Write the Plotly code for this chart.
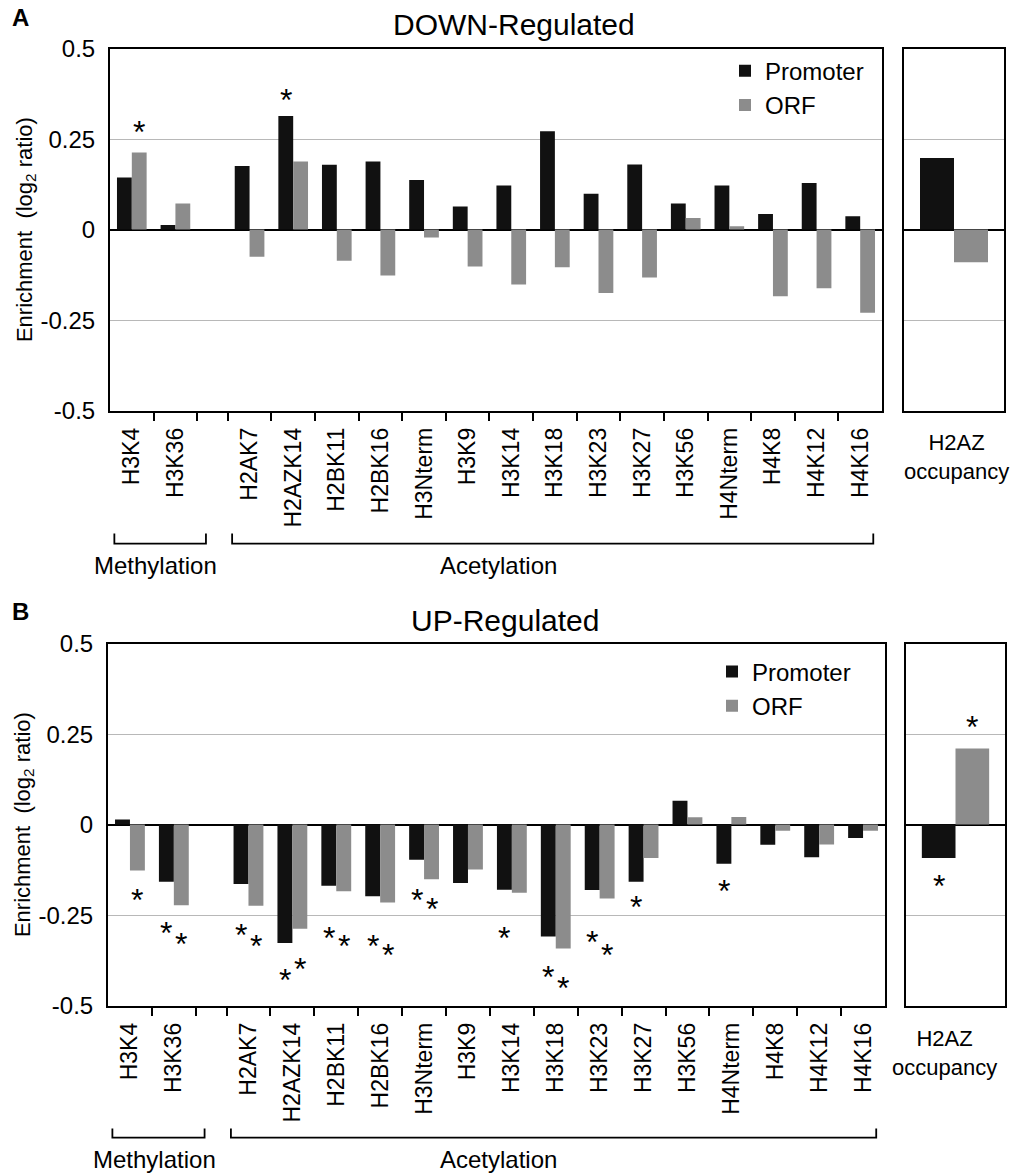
import plotly.graph_objects as go

# ---------------- data ----------------
categories = ["H3K4", "H3K36", "H2AK7", "H2AZK14", "H2BK11", "H2BK16", "H3Nterm",
              "H3K9", "H3K14", "H3K18", "H3K23", "H3K27", "H3K56", "H4Nterm",
              "H4K8", "H4K12", "H4K16"]
n_methylation = 2
series_names = ["Promoter", "ORF"]

down_promoter = [0.144, 0.013, 0.176, 0.314, 0.179, 0.188, 0.137, 0.064, 0.122,
                 0.272, 0.099, 0.180, 0.072, 0.122, 0.043, 0.129, 0.037]
down_orf = [0.213, 0.072, -0.075, 0.188, -0.086, -0.127, -0.022, -0.102, -0.152,
            -0.104, -0.175, -0.132, 0.032, 0.009, -0.184, -0.162, -0.230]
down_h2az = [0.198, -0.090]          # Promoter, ORF

up_promoter = [0.014, -0.158, -0.164, -0.327, -0.169, -0.198, -0.097, -0.161, -0.180,
               -0.309, -0.181, -0.158, 0.066, -0.108, -0.056, -0.090, -0.037]
up_orf = [-0.127, -0.223, -0.224, -0.288, -0.184, -0.215, -0.151, -0.124, -0.188,
          -0.342, -0.204, -0.092, 0.020, 0.021, -0.017, -0.055, -0.017]
up_h2az = [-0.092, 0.210]            # Promoter, ORF

# significance asterisks: (category, series, y value of the mark)
down_stars = [("H3K4", "ORF", 0.290), ("H2AZK14", "Promoter", 0.378)]
down_h2az_stars = []
up_stars = [("H3K4", "ORF", -0.19),
            ("H3K36", "Promoter", -0.28), ("H3K36", "ORF", -0.31),
            ("H2AK7", "Promoter", -0.287), ("H2AK7", "ORF", -0.315),
            ("H2AZK14", "Promoter", -0.41), ("H2AZK14", "ORF", -0.38),
            ("H2BK11", "Promoter", -0.293), ("H2BK11", "ORF", -0.315),
            ("H2BK16", "Promoter", -0.317), ("H2BK16", "ORF", -0.34),
            ("H3Nterm", "Promoter", -0.19), ("H3Nterm", "ORF", -0.213),
            ("H3K14", "Promoter", -0.293),
            ("H3K18", "Promoter", -0.403), ("H3K18", "ORF", -0.433),
            ("H3K23", "Promoter", -0.304), ("H3K23", "ORF", -0.342),
            ("H3K27", "Promoter", -0.207),
            ("H4Nterm", "Promoter", -0.163)]
up_h2az_stars = [("Promoter", -0.149), ("ORF", 0.288)]

y_ticks = [-0.5, -0.25, 0, 0.25, 0.5]
y_ticktext = ["-0.5", "-0.25", "0", "0.25", "0.5"]

# ---------------- layout helpers ----------------
FONT = "Liberation Sans, Arial, Helvetica, sans-serif"
BLACK = "#111111"
GREY = "#8c8c8c"
GAP = 0.7
W, H = 1015, 1174

centers = [i + 0.5 if i < n_methylation else i + GAP + 0.5 for i in range(len(categories))]
bounds = sorted([c + 0.5 for c in centers[:-1]] + [n_methylation + GAP])
x_max = len(categories) + GAP
pos = dict(zip(categories, centers))
offset = {"Promoter": -0.17, "ORF": 0.17}


def px_x(p):
    return p / W


def req(t):
    # target picture row -> figure row (compensates the capture's vertical mapping)
    return (t - 14.4) / 0.977


def px_y(t):
    return 1 - req(t) / H


def txt(x, y, text, size, xref="paper", yref="paper", **kw):
    d = dict(x=x, y=y, xref=xref, yref=yref, text=text, showarrow=False,
             xanchor="center", yanchor="middle",
             font=dict(size=size, family=FONT, color="black"))
    d.update(kw)
    return d


fig = go.Figure()

panels = [
    dict(xa="x", ya="y", xa2="x2", ya2="y2", prom=down_promoter, orf=down_orf,
         h2az=down_h2az, stars=down_stars, hstars=down_h2az_stars, legend="legend"),
    dict(xa="x3", ya="y3", xa2="x4", ya2="y4", prom=up_promoter, orf=up_orf,
         h2az=up_h2az, stars=up_stars, hstars=up_h2az_stars, legend="legend2"),
]

annotations = []
for p in panels:
    for name, vals, col in [("Promoter", p["prom"], BLACK), ("ORF", p["orf"], GREY)]:
        fig.add_trace(go.Bar(x=centers, y=vals, name=name, marker_color=col,
                             marker_line_width=0, xaxis=p["xa"], yaxis=p["ya"],
                             legend=p["legend"], hoverinfo="skip"))
    for i, (name, col) in enumerate([("Promoter", BLACK), ("ORF", GREY)]):
        fig.add_trace(go.Bar(x=[0], y=[p["h2az"][i]], name=name, marker_color=col,
                             marker_line_width=0, xaxis=p["xa2"], yaxis=p["ya2"],
                             showlegend=False, offsetgroup=name, hoverinfo="skip"))
    for cat, ser, yv in p["stars"]:
        annotations.append(txt(pos[cat] + offset[ser], yv, "*", 32,
                               xref=p["xa"], yref=p["ya"], yshift=-7))
    for ser, yv in p["hstars"]:
        annotations.append(txt(offset[ser], yv, "*", 32,
                               xref=p["xa2"], yref=p["ya2"], yshift=-7))

# domains (pixel-based)
dom = {
    "A_main_x": [px_x(110), px_x(882)], "A_y": [px_y(411), px_y(49)],
    "A_h2_x": [px_x(904), px_x(1004)],
    "B_main_x": [px_x(108), px_x(885)], "B_y": [px_y(1006), px_y(644)],
    "B_h2_x": [px_x(906), px_x(1005)],
}

common_y = dict(range=[-0.5, 0.5], tickvals=y_ticks, showgrid=True, gridcolor="#b8b8b8",
                gridwidth=1, zeroline=True, zerolinecolor="black", zerolinewidth=2,
                showline=True, linecolor="black", linewidth=2, mirror=True, ticks="",
                fixedrange=True)
main_y = dict(common_y, ticktext=y_ticktext, tickfont=dict(size=24, family=FONT, color="black"),
              ticklabelstandoff=8,
              title=dict(text="Enrichment\u00a0\u00a0(log<sub>2</sub> ratio)",
                         font=dict(size=22, family=FONT, color="black"), standoff=2))
h2_y = dict(common_y, showticklabels=False)
main_x = dict(range=[0, x_max], tickvals=centers, ticktext=categories, tickangle=-90,
              tickfont=dict(size=23, family=FONT, color="black"), ticks="",
              showline=True, linecolor="black", linewidth=2, mirror=True, showgrid=False,
              zeroline=False, fixedrange=True, ticklabelstandoff=6,
              minor=dict(tickmode="array", tickvals=bounds, ticks="outside", ticklen=8,
                         tickwidth=1.5, tickcolor="black", showgrid=False))
h2_x = dict(range=[-0.5, 0.5], showticklabels=False, ticks="", showline=True,
            linecolor="black", linewidth=2, mirror=True, showgrid=False, zeroline=False,
            fixedrange=True)

legend_font = dict(size=24, family=FONT, color="black")
fig.update_layout(
    width=W, height=H, margin=dict(l=0, r=0, t=0, b=0),
    paper_bgcolor="white", plot_bgcolor="white",
    barmode="group", bargap=0.32, bargroupgap=0,
    font=dict(family=FONT, color="black"),
    xaxis=dict(main_x, domain=dom["A_main_x"], anchor="y"),
    yaxis=dict(main_y, domain=dom["A_y"], anchor="x"),
    xaxis2=dict(h2_x, domain=dom["A_h2_x"], anchor="y2"),
    yaxis2=dict(h2_y, domain=dom["A_y"], anchor="x2"),
    xaxis3=dict(main_x, domain=dom["B_main_x"], anchor="y3"),
    yaxis3=dict(main_y, domain=dom["B_y"], anchor="x3"),
    xaxis4=dict(h2_x, domain=dom["B_h2_x"], anchor="y4"),
    yaxis4=dict(h2_y, domain=dom["B_y"], anchor="x4"),
    legend=dict(x=px_x(725), y=1 - (req(71) - 22.4) / H, xanchor="left", yanchor="top",
                font=legend_font, bgcolor="rgba(0,0,0,0)", tracegroupgap=4),
    legend2=dict(x=px_x(712), y=1 - (req(672.5) - 23.3) / H, xanchor="left", yanchor="top",
                 font=legend_font, bgcolor="rgba(0,0,0,0)", tracegroupgap=4),
    showlegend=True,
)

# titles and panel letters
annotations += [
    txt(px_x(514), px_y(25), "DOWN-Regulated", 30),
    txt(px_x(505), px_y(621), "UP-Regulated", 30),
    txt(px_x(20), px_y(18), "<b>A</b>", 24),
    txt(px_x(20), px_y(612), "<b>B</b>", 24),
    txt(px_x(956), px_y(457), "H2AZ<br>occupancy", 22),
    txt(px_x(944), px_y(1053), "H2AZ<br>occupancy", 22),
]

# group brackets
shapes = []
meth_x0 = 0.1
meth_x1 = n_methylation + 0.2
acet_x0 = n_methylation + GAP + 0.1
acet_x1 = x_max - 0.2
for xa, y_line, y_top, y_text in [("x", 544, 534, 566), ("x3", 1138, 1129, 1160)]:
    for x0, x1 in [(meth_x0, meth_x1), (acet_x0, acet_x1)]:
        shapes.append(dict(type="path", xref=xa, yref="paper",
                           path=f"M {x0},{px_y(y_top)} L {x0},{px_y(y_line)} "
                                f"L {x1},{px_y(y_line)} L {x1},{px_y(y_top)}",
                           line=dict(color="black", width=1.8)))
    annotations.append(txt(1.05, px_y(y_text), "Methylation", 24, xref=xa))
    annotations.append(txt(8.9, px_y(y_text), "Acetylation", 24, xref=xa))

fig.update_layout(annotations=annotations, shapes=shapes)
fig.write_html("out.html")
